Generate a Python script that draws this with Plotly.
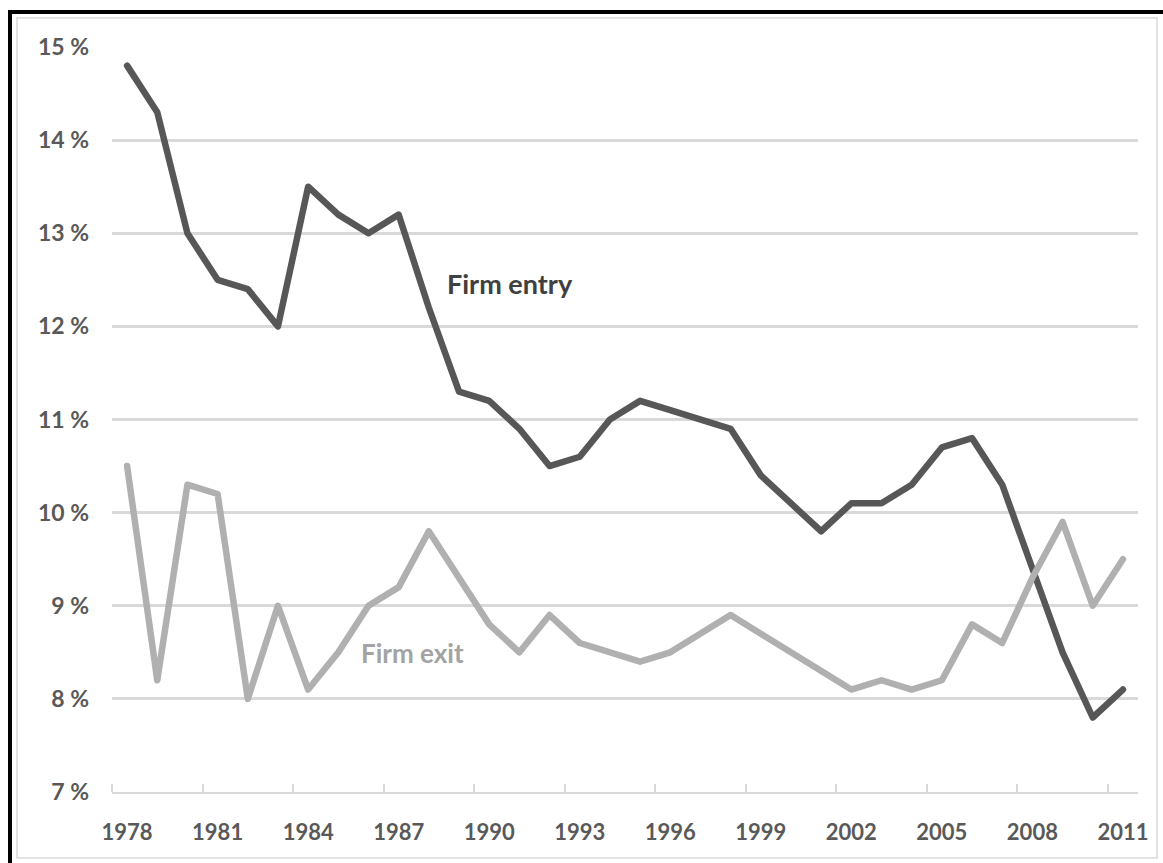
import plotly.graph_objects as go

# Firm entry and exit rates (% of firms), 1978-2011
years = [1978, 1979, 1980, 1981, 1982, 1983, 1984, 1985, 1986, 1987,
         1988, 1989, 1990, 1991, 1992, 1993, 1994, 1995, 1996, 1997,
         1998, 1999, 2000, 2001, 2002, 2003, 2004, 2005, 2006, 2007,
         2008, 2009, 2010, 2011]

firm_entry = [14.8, 14.3, 13.0, 12.5, 12.4, 12.0, 13.5, 13.2, 13.0, 13.2,
              12.2, 11.3, 11.2, 10.9, 10.5, 10.6, 11.0, 11.2, 11.1, 11.0,
              10.9, 10.4, 10.1, 9.8, 10.1, 10.1, 10.3, 10.7, 10.8, 10.3,
              9.4, 8.5, 7.8, 8.1]

firm_exit = [10.5, 8.2, 10.3, 10.2, 8.0, 9.0, 8.1, 8.5, 9.0, 9.2,
             9.8, 9.3, 8.8, 8.5, 8.9, 8.6, 8.5, 8.4, 8.5, 8.7,
             8.9, 8.7, 8.5, 8.3, 8.1, 8.2, 8.1, 8.2, 8.8, 8.6,
             9.3, 9.9, 9.0, 9.5]

y_ticks = [7, 8, 9, 10, 11, 12, 13, 14, 15]
y_tick_text = ["7 %", "8 %", "9 %", "10 %", "11 %", "12 %", "13 %", "14 %", "15 %"]
x_ticks = [1978, 1981, 1984, 1987, 1990, 1993, 1996, 1999, 2002, 2005, 2008, 2011]

FONT = "Lato"
GRID = "#d9d9d9"
TEXT = "#595959"

# tick marks sit on the category boundaries, every third year
x_boundaries = [y - 0.5 for y in x_ticks]

fig = go.Figure()
fig.add_trace(go.Scatter(x=years, y=firm_entry, mode="lines", name="Firm entry",
                         line=dict(color="#575757", width=6.5), hoverinfo="x+y"))
fig.add_trace(go.Scatter(x=years, y=firm_exit, mode="lines", name="Firm exit",
                         line=dict(color="#b0b0b0", width=6.5), hoverinfo="x+y"))

fig.add_annotation(x=1988.55, y=12.46, text="<b>Firm entry</b>", showarrow=False,
                   xanchor="left", yanchor="middle",
                   font=dict(family=FONT, size=27, color="#404040"))
fig.add_annotation(x=1985.68, y=8.49, text="<b>Firm exit</b>", showarrow=False,
                   xanchor="left", yanchor="middle",
                   font=dict(family=FONT, size=26, color="#a3a3a3"))

# plot-area geometry in pixels, used to place the frame in paper units
L, R, T, B = 112, 1138, 47, 792


def px_x(p):
    return (p - L) / (R - L)


def px_y(p):
    return (B - p) / (B - T)


# outer black frame and inner light chart border
fig.add_shape(type="rect", xref="paper", yref="paper",
              x0=px_x(10), x1=px_x(1175), y0=px_y(875), y1=px_y(12),
              line=dict(color="black", width=4), fillcolor="rgba(0,0,0,0)", layer="above")
fig.add_shape(type="rect", xref="paper", yref="paper",
              x0=px_x(17), x1=px_x(1157), y0=px_y(858), y1=px_y(18),
              line=dict(color=GRID, width=1.5), fillcolor="rgba(0,0,0,0)", layer="below")

fig.update_layout(
    width=1163, height=863, autosize=False,
    margin=dict(l=L, r=1163 - R, t=T, b=863 - B, pad=0),
    paper_bgcolor="white", plot_bgcolor="white",
    showlegend=False,
    font=dict(family=FONT, color=TEXT),
    xaxis=dict(
        range=[1977.5, 2011.5], tickmode="array", tickvals=x_ticks,
        ticktext=[str(v) for v in x_ticks], ticks="", showgrid=False,
        zeroline=False, showline=True, linecolor=GRID, linewidth=1.5,
        tickfont=dict(family=FONT, size=22, color=TEXT, weight="bold"),
        ticklabelstandoff=20,
        minor=dict(tickmode="array", tickvals=x_boundaries, ticks="inside",
                   ticklen=8, tickwidth=1.5, tickcolor=GRID, showgrid=False),
    ),
    yaxis=dict(
        range=[7, 15], tickmode="array", tickvals=y_ticks, ticktext=y_tick_text,
        ticks="", showgrid=True, gridcolor=GRID, gridwidth=2.5, zeroline=False,
        showline=False,
        tickfont=dict(family=FONT, size=23, color=TEXT, weight="bold"),
        ticklabelstandoff=22,
    ),
)

fig.write_html(
    "out.html",
    post_script="document.querySelectorAll('.js-line').forEach(function(e){"
                "e.style.strokeLinejoin='round';e.style.strokeLinecap='round';});",
)
